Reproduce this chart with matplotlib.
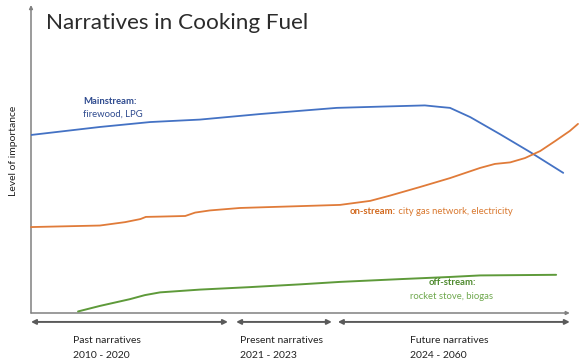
import matplotlib.pyplot as plt
from matplotlib.patches import FancyArrowPatch

plt.rcParams['font.family'] = ['Lato', 'DejaVu Sans']

# Timeline position (0-100) and level of importance (0-100) for each narrative
main_x = [0, 12.6, 21.8, 30.9, 41.9, 55.9, 63.8, 72.0, 74.8, 76.6, 80.3, 85.7, 91.2, 97.3]
main_y = [57.8, 60.4, 62.0, 62.8, 64.6, 66.6, 67.0, 67.4, 66.9, 66.6, 63.6, 58.1, 52.3, 45.5]

on_x = [0, 12.6, 17.2, 20.0, 21.0, 23.6, 28.2, 30.0, 32.7, 38.2, 49.2, 56.5, 62.0, 65.6,
        71.1, 76.6, 82.1, 84.8, 87.6, 90.3, 93.1, 95.8, 98.5, 100]
on_y = [27.9, 28.4, 29.5, 30.5, 31.2, 31.3, 31.5, 32.6, 33.3, 34.1, 34.7, 35.1, 36.4, 38.1,
        40.9, 43.8, 47.1, 48.4, 48.9, 50.3, 52.6, 55.8, 59.1, 61.4]

off_x = [8.6, 12.6, 18.1, 20.8, 23.6, 30.9, 40.0, 49.2, 56.5, 67.5, 76.6, 82.1, 96.0]
off_y = [0.5, 2.3, 4.5, 5.8, 6.7, 7.6, 8.4, 9.3, 10.1, 11.0, 11.7, 12.2, 12.4]

# Narrative periods along the timeline
periods = ["Past narratives", "Present narratives", "Future narratives"]
period_years = ["2010 - 2020", "2021 - 2023", "2024 - 2060"]
period_start = [0, 37.5, 56.1]
period_end = [36.0, 55.0, 98.5]

BLUE, ORANGE, GREEN = "#4472C4", "#E07B39", "#5E9A3A"

W, H = 579, 363
fig = plt.figure(figsize=(W / 100, H / 100), dpi=100)
ax = fig.add_axes([31 / W, 1 - 313 / H, 547 / W, 308 / H])
ax.set_xlim(0, 100)
ax.set_ylim(0, 100)
ax.axis("off")

ax.plot(main_x, main_y, color=BLUE, lw=1.3, solid_capstyle="round")
ax.plot(on_x, on_y, color=ORANGE, lw=1.3, solid_capstyle="round", clip_on=False)
ax.plot(off_x, off_y, color=GREEN, lw=1.4, solid_capstyle="round")

# Axes drawn as arrows
axis_kw = dict(color="#808080", lw=1.1, mutation_scale=5, shrinkA=0, shrinkB=0,
               transform=ax.transData, clip_on=False)
ax.add_patch(FancyArrowPatch((0, 0), (0, 100), arrowstyle="-|>", **axis_kw))
ax.add_patch(FancyArrowPatch((0, 0), (98.5, 0), arrowstyle="-|>", **axis_kw))

# Period arrows and labels
for name, yrs, s, e in zip(periods, period_years, period_start, period_end):
    ax.add_patch(FancyArrowPatch((s, -2.9), (e, -2.9), arrowstyle="<|-|>",
                                 color="#5a5a5a", lw=1.4, mutation_scale=7,
                                 shrinkA=0, shrinkB=0, clip_on=False))
offsets = [7.7, 0.7, 13.2]
for name, yrs, s, off in zip(periods, period_years, period_start, offsets):
    ax.text(s + off, -9.0, name, fontsize=7.5, color="#222222", va="center", ha="left")
    ax.text(s + off, -13.7, yrs, fontsize=7.5, color="#222222", va="center", ha="left")

# Title and y label
fig.text(46 / W, 1 - 23 / H, "Narratives in Cooking Fuel", fontsize=16.2, fontweight="normal",
         color="#2b2b2b", va="center", ha="left")
fig.text(14 / W, 1 - 151 / H, "Level of importance", fontsize=7.5, rotation=90,
         va="center", ha="center", color="#222222")

# Series annotations
ax.text(9.5, 68.6, "Mainstream:", fontsize=6.8, fontweight="bold", color="#2F4B8F",
        va="center", ha="left")
ax.text(9.5, 64.4, "firewood, LPG", fontsize=6.8, color="#2F4B8F", va="center", ha="left")

t_on = ax.text(58.3, 32.8, "on-stream:", fontsize=6.8, fontweight="bold", color="#D2691E",
               va="center", ha="left")
ax.annotate(" city gas network, electricity", xy=(1, 0.5), xycoords=t_on, va="center",
            ha="left", fontsize=6.8, color="#D9782F")

ax.text(77.0, 9.8, "off-stream:", fontsize=6.8, fontweight="bold", color="#4E8A2E",
        va="center", ha="center")
ax.text(76.8, 5.2, "rocket stove, biogas", fontsize=6.8, color="#6FA84E",
        va="center", ha="center")

fig.savefig("out.png", dpi=100)
